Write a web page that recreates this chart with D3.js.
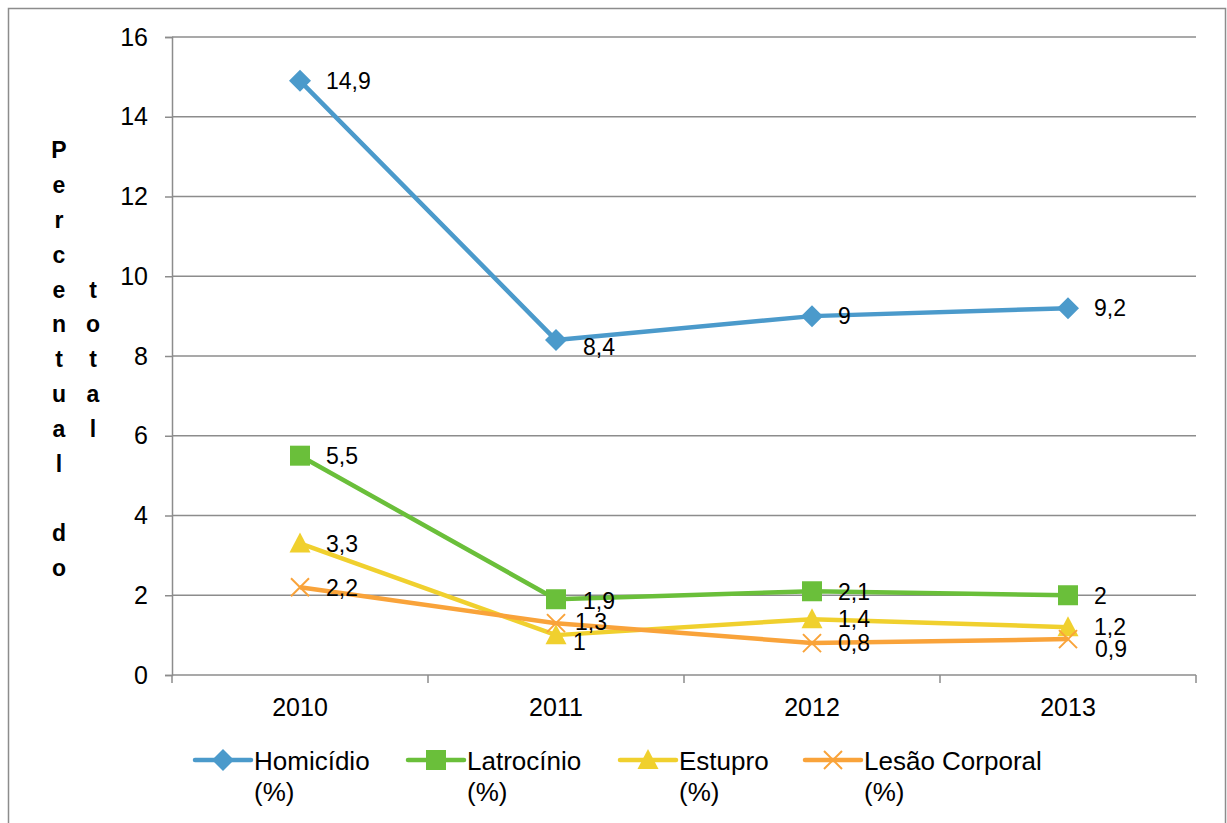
<!DOCTYPE html>
<html>
<head>
<meta charset="utf-8">
<script src="https://cdn.jsdelivr.net/npm/d3@7"></script>
<style>
  body { margin: 0; background: #fff; }
  text { font-family: "Liberation Sans", Arial, sans-serif; fill: #000; }
</style>
</head>
<body>
<div id="chart"></div>
<script>
// data
var years = ["2010", "2011", "2012", "2013"];
var homicidio = [14.9, 8.4, 9, 9.2];
var latrocinio = [5.5, 1.9, 2.1, 2];
var estupro = [3.3, 1, 1.4, 1.2];
var lesao = [2.2, 1.3, 0.8, 0.9];
var yTicks = [0, 2, 4, 6, 8, 10, 12, 14, 16];
var seriesNames = ["Homicídio", "Latrocínio", "Estupro", "Lesão Corporal"];
var yTitleCol1 = "Percentual do";
var yTitleCol2 = "total";

var svgWidth = 1227;
var svgHeight = 823;

var margin = { top: 37, right: 31, bottom: 148, left: 172 };
var width = svgWidth - margin.left - margin.right;
var height = svgHeight - margin.top - margin.bottom;

var svg = d3.select("#chart")
  .append("svg")
  .attr("width", svgWidth)
  .attr("height", svgHeight);

// outer chart border
svg.append("rect")
  .attr("x", 8.5).attr("y", 8.5)
  .attr("width", 1217).attr("height", 830)
  .attr("fill", "none")
  .attr("stroke", "#8c8c8c")
  .attr("stroke-width", 1.5);

var chartGroup = svg.append("g")
  .attr("transform", `translate(${margin.left}, ${margin.top})`);

// scales
var xBand = d3.scaleBand().domain(years).range([0, width]);
var xPoint = d => xBand(d) + xBand.bandwidth() / 2;
var yScale = d3.scaleLinear().domain([0, 16]).range([height, 0]);

// gridlines
chartGroup.append("g")
  .selectAll("line")
  .data(yTicks.filter(d => d > 0))
  .enter()
  .append("line")
  .attr("x1", 0).attr("x2", width)
  .attr("y1", d => yScale(d)).attr("y2", d => yScale(d))
  .attr("stroke", "#8c8c8c")
  .attr("stroke-width", 1.5);

// y axis
var leftAxis = d3.axisLeft(yScale).tickValues(yTicks).tickSize(7).tickPadding(17);
var yAxisG = chartGroup.append("g").call(leftAxis);
yAxisG.select(".domain").attr("stroke", "#8c8c8c").attr("stroke-width", 1.5);
yAxisG.selectAll(".tick line").attr("stroke", "#8c8c8c").attr("stroke-width", 1.5);
yAxisG.selectAll("text").attr("font-size", 25).attr("font-family", "Liberation Sans, Arial, sans-serif");

// x axis (ticks at category boundaries)
var xAxisG = chartGroup.append("g").attr("transform", `translate(0, ${height})`);
xAxisG.append("line")
  .attr("x1", 0).attr("x2", width)
  .attr("stroke", "#8c8c8c").attr("stroke-width", 1.5);
xAxisG.selectAll(".xtick")
  .data(years.concat(["end"]))
  .enter()
  .append("line")
  .attr("class", "xtick")
  .attr("x1", (d, i) => i * xBand.bandwidth())
  .attr("x2", (d, i) => i * xBand.bandwidth())
  .attr("y1", 0).attr("y2", 8)
  .attr("stroke", "#8c8c8c").attr("stroke-width", 1.5);
xAxisG.selectAll(".xlabel")
  .data(years)
  .enter()
  .append("text")
  .attr("class", "xlabel")
  .attr("x", d => xPoint(d))
  .attr("y", 41)
  .attr("text-anchor", "middle")
  .attr("font-size", 25)
  .text(d => d);

// series
var series = [
  { name: seriesNames[0], values: homicidio, color: "#4b9acb", marker: "diamond" },
  { name: seriesNames[1], values: latrocinio, color: "#6abf3a", marker: "square" },
  { name: seriesNames[2], values: estupro, color: "#f0d02e", marker: "triangle" },
  { name: seriesNames[3], values: lesao, color: "#f9a33a", marker: "cross" }
];

function drawMarker(g, type, color) {
  if (type === "diamond") {
    g.append("path").attr("d", "M0,-11L11,0L0,11L-11,0Z").attr("fill", color);
  } else if (type === "square") {
    g.append("rect").attr("x", -10).attr("y", -10).attr("width", 20).attr("height", 20).attr("fill", color);
  } else if (type === "triangle") {
    g.append("path").attr("d", "M0,-11L10.5,9L-10.5,9Z").attr("fill", color);
  } else {
    g.append("path").attr("d", "M-9,-9L9,9M-9,9L9,-9")
      .attr("stroke", color).attr("stroke-width", 2).attr("fill", "none");
  }
}

var line = d3.line()
  .x((d, i) => xPoint(years[i]))
  .y(d => yScale(d));

// label nudges where the original chart moved labels to avoid overlap
var labelNudge = {
  "0-1": [27, 7],
  "1-1": [27, 1],
  "2-1": [17, 7],
  "3-1": [19, -1],
  "3-3": [27, 10]
};

series.forEach(function(s, si) {
  chartGroup.append("path")
    .datum(s.values)
    .attr("d", line)
    .attr("fill", "none")
    .attr("stroke", s.color)
    .attr("stroke-width", 4.5)
    .attr("stroke-linejoin", "round");

  s.values.forEach(function(v, i) {
    var g = chartGroup.append("g")
      .attr("transform", `translate(${xPoint(years[i])}, ${yScale(v)})`);
    drawMarker(g, s.marker, s.color);
  });
});

series.forEach(function(s, si) {
  s.values.forEach(function(v, i) {
    var nudge = labelNudge[si + "-" + i] || [26, 0];
    chartGroup.append("text")
      .attr("x", xPoint(years[i]) + nudge[0])
      .attr("y", yScale(v) + nudge[1])
      .attr("dy", "0.36em")
      .attr("font-size", 23)
      .text(String(v).replace(".", ","));
  });
});

// y axis title, stacked letters in two columns
var lineStep = 34.8;
var midY = margin.top + height / 2 + 3;
function stackColumn(str, x) {
  var chars = str.split("");
  var y0 = midY - (chars.length - 1) * lineStep / 2;
  svg.append("g").selectAll("text")
    .data(chars)
    .enter()
    .append("text")
    .attr("x", x)
    .attr("y", (d, i) => y0 + i * lineStep)
    .attr("dy", "0.36em")
    .attr("text-anchor", "middle")
    .attr("font-size", 23)
    .attr("font-weight", "bold")
    .text(d => d);
}
stackColumn(yTitleCol1, 59);
stackColumn(yTitleCol2, 93);

// legend
var legendX = [195, 408, 620, 805];
var legend = svg.append("g");
series.forEach(function(s, i) {
  var g = legend.append("g").attr("transform", `translate(${legendX[i]}, 760)`);
  g.append("line")
    .attr("x1", 0).attr("x2", 56)
    .attr("stroke", s.color).attr("stroke-width", 4.5)
    .attr("stroke-linecap", "round");
  var mg = g.append("g").attr("transform", "translate(28,0)");
  drawMarker(mg, s.marker, s.color);
  g.append("text")
    .attr("x", 59).attr("y", 10)
    .attr("font-size", 26)
    .text(s.name);
  g.append("text")
    .attr("x", 59).attr("y", 41)
    .attr("font-size", 26)
    .text("(%)");
});
</script>
</body>
</html>
